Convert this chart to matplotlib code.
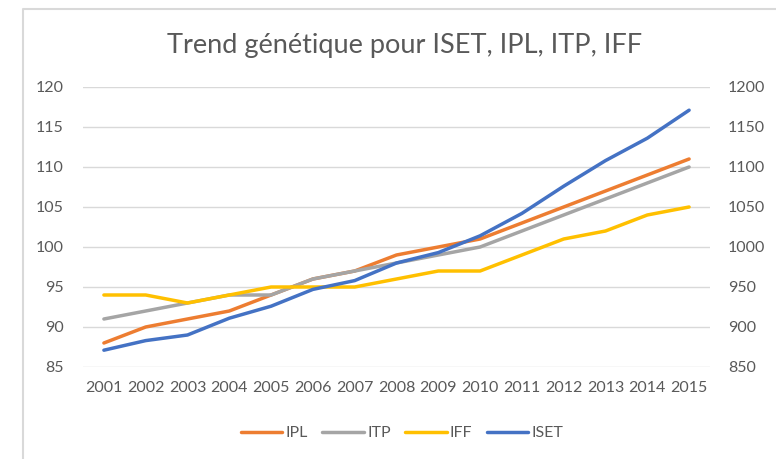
import matplotlib
matplotlib.use("Agg")
import matplotlib.pyplot as plt
from matplotlib.lines import Line2D

years = list(range(2001, 2016))
ipl = [88, 90, 91, 92, 94, 96, 97, 99, 100, 101, 103, 105, 107, 109, 111]
itp = [91, 92, 93, 94, 94, 96, 97, 98, 99, 100, 102, 104, 106, 108, 110]
iff = [94, 94, 93, 94, 95, 95, 95, 96, 97, 97, 99, 101, 102, 104, 105]
iset = [871, 883, 890, 911, 926, 947, 958, 980, 993, 1014, 1042, 1076, 1108, 1136, 1171]

grey = '#595959'
plt.rcParams['font.family'] = ['Lato', 'DejaVu Sans']

fig = plt.figure(figsize=(7.76, 4.59), dpi=100)
ax = fig.add_axes([83 / 776, 1 - 367 / 459, (710 - 83) / 776, 280 / 459])
ax2 = ax.twinx()

lw = 2.5
ax.plot(years, ipl, color='#ED7D31', lw=lw, label='IPL', solid_capstyle='round')
ax.plot(years, itp, color='#A5A5A5', lw=lw, label='ITP', solid_capstyle='round')
ax.plot(years, iff, color='#FFC000', lw=lw, label='IFF', solid_capstyle='round')
ax2.plot(years, iset, color='#4472C4', lw=lw, label='ISET', solid_capstyle='round')

ax.set_xlim(2000.5, 2015.5)
ax.set_ylim(85, 120)
ax2.set_ylim(850, 1200)
ax.set_yticks(range(85, 121, 5))
ax2.set_yticks(range(850, 1201, 50))
ax.set_xticks(years)

ax.grid(axis='y', color='#D9D9D9', lw=1)
ax.set_axisbelow(True)
for a in (ax, ax2):
    for s in a.spines.values():
        s.set_visible(False)
    a.tick_params(length=0, labelsize=11.5, labelcolor=grey)
ax.tick_params(axis='y', pad=14)
ax2.tick_params(axis='y', pad=13)
ax.tick_params(axis='x', pad=10)

fig.text(405 / 776, 1 - 45 / 459, 'Trend génétique pour ISET, IPL, ITP, IFF',
         ha='center', va='center', fontsize=19.5, color=grey)

handles = ax.get_lines()[:3] + ax2.get_lines()
fig.legend(handles, [h.get_label() for h in handles], loc='center',
           bbox_to_anchor=(402 / 776, 1 - 433 / 459), ncol=4, frameon=False,
           fontsize=11.5, labelcolor=grey, handlelength=2.6, handletextpad=0.2,
           columnspacing=0.9)

# chart frame
fig.add_artist(Line2D([23 / 776, 23 / 776, 1], [0, 1 - 9 / 459, 1 - 9 / 459],
                      transform=fig.transFigure, color='#D9D9D9', lw=1.5))

fig.savefig('out.png', dpi=100, facecolor='white')
